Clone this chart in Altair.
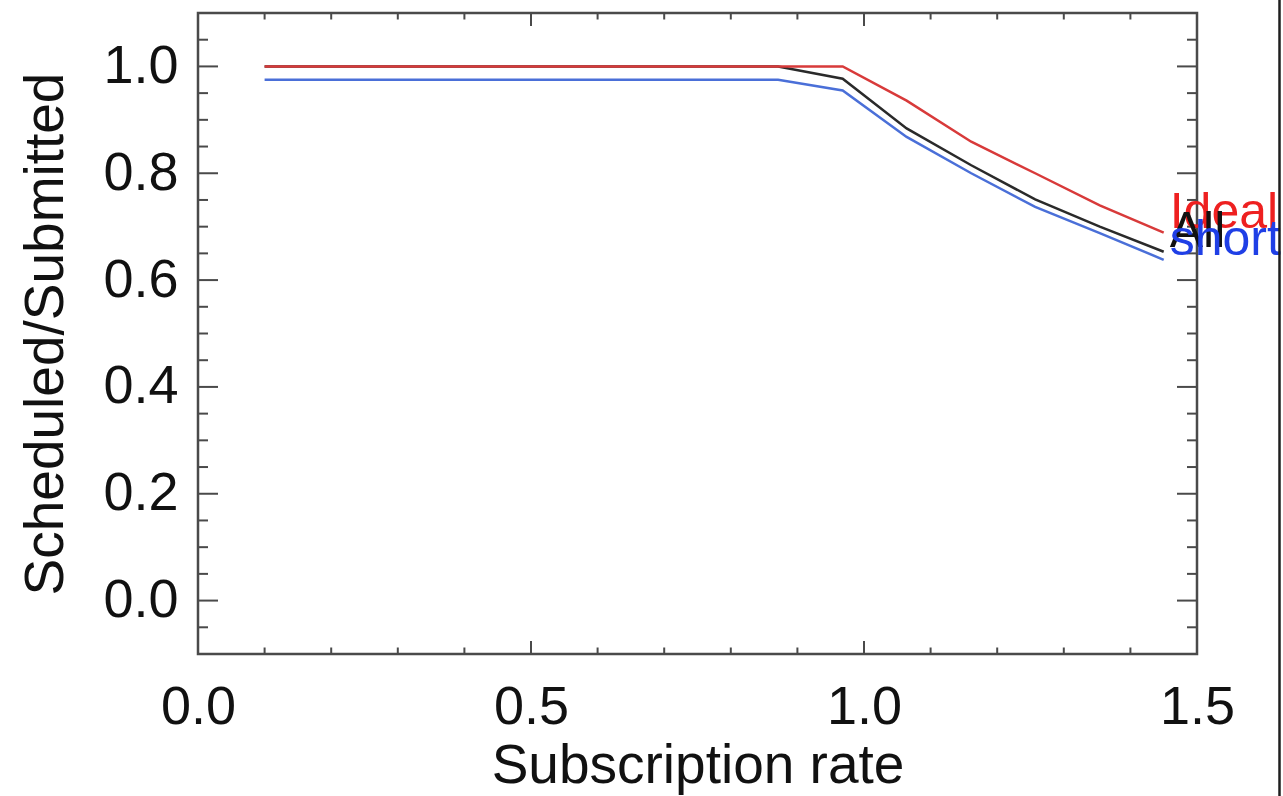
import altair as alt
import pandas as pd

# Subscription rate sample points
rate = [0.100, 0.196, 0.293, 0.389, 0.486, 0.582, 0.679, 0.775,
        0.871, 0.968, 1.064, 1.161, 1.257, 1.354, 1.450]

# Scheduled / Submitted fraction for each case
ideal = [1.000, 1.000, 1.000, 1.000, 1.000, 1.000, 1.000, 1.000,
         1.000, 1.000, 0.936, 0.859, 0.800, 0.740, 0.689]
all_jobs = [1.000, 1.000, 1.000, 1.000, 1.000, 1.000, 1.000, 1.000,
            1.000, 0.977, 0.884, 0.815, 0.751, 0.700, 0.653]
short = [0.975, 0.975, 0.975, 0.975, 0.975, 0.975, 0.975, 0.975,
         0.975, 0.955, 0.868, 0.800, 0.737, 0.688, 0.638]

series_names = ["Ideal", "All", "short"]
series_values = [ideal, all_jobs, short]
line_colors = ["#d83a3a", "#2a2a2a", "#4a6fd8"]
text_colors = ["#ee2020", "#111111", "#1f3fe6"]

# Axis ticks (drawn inward on all four sides)
x_major = [0.0, 0.5, 1.0, 1.5]
x_minor = [0.1, 0.2, 0.3, 0.4, 0.6, 0.7, 0.8, 0.9, 1.1, 1.2, 1.3, 1.4]
y_major = [0.0, 0.2, 0.4, 0.6, 0.8, 1.0]
y_minor = [-0.05, 0.05, 0.10, 0.15, 0.25, 0.30, 0.35, 0.45, 0.50, 0.55,
           0.65, 0.70, 0.75, 0.85, 0.90, 0.95, 1.05]

W, H = 999, 641
FONT = "Liberation Sans"
FRAME = "#4a4a4a"

xs = alt.Scale(domain=[0.0, 1.5], nice=False, zero=False)
ys = alt.Scale(domain=[-0.1, 1.1], nice=False, zero=False)

x_axis = alt.Axis(values=x_major, format=".1f", title="Subscription rate",
                  labelFontSize=54, labelPadding=26, ticks=False, domain=False,
                  grid=False, labelFlush=False, labelOverlap=False,
                  labelFont=FONT, titleFont=FONT, titleFontSize=55,
                  titleFontWeight="normal", titleColor="#111", labelColor="#111",
                  titleX=W / 2, titleY=128, titleBaseline="alphabetic",
                  titleAlign="center")
y_axis = alt.Axis(values=y_major, format=".1f", title="Scheduled/Submitted",
                  labelFontSize=54, labelPadding=20, ticks=False, domain=False,
                  grid=False, labelFlush=False, labelOverlap=False,
                  labelFont=FONT, titleFont=FONT, titleFontSize=55,
                  titleFontWeight="normal", titleColor="#111", labelColor="#111",
                  titleX=-136, titleY=H / 2, titleBaseline="alphabetic",
                  titleAlign="center")

# One layer per case; drawn so that the Ideal curve sits on top
line_layers = []
for name, vals, col in list(zip(series_names, series_values, line_colors))[::-1]:
    d = pd.DataFrame({"rate": rate, "frac": vals})
    line_layers.append(
        alt.Chart(d).mark_line(strokeWidth=2.5, color=col).encode(
            x=alt.X("rate:Q", scale=xs, axis=x_axis),
            y=alt.Y("frac:Q", scale=ys, axis=y_axis))
    )

# End-of-line labels
end_layers = []
for name, vals, col in zip(series_names, series_values, text_colors):
    d = pd.DataFrame({"rate": [rate[-1]], "frac": [vals[-1]], "case": [name]})
    end_layers.append(
        alt.Chart(d).mark_text(align="left", baseline="alphabetic", dx=6, dy=-5,
                               fontSize=50, font=FONT, color=col).encode(
            x=alt.X("rate:Q", scale=xs), y=alt.Y("frac:Q", scale=ys),
            text="case:N")
    )

def xticks(vals, length):
    d = pd.DataFrame({"t": vals})
    bottom = alt.Chart(d).mark_rule(color=FRAME, strokeWidth=2).encode(
        x=alt.X("t:Q", scale=xs), y=alt.value(H), y2=alt.value(H - length))
    top = alt.Chart(d).mark_rule(color=FRAME, strokeWidth=2).encode(
        x=alt.X("t:Q", scale=xs), y=alt.value(0), y2=alt.value(length))
    return [bottom, top]

def yticks(vals, length):
    d = pd.DataFrame({"t": vals})
    left = alt.Chart(d).mark_rule(color=FRAME, strokeWidth=2).encode(
        y=alt.Y("t:Q", scale=ys), x=alt.value(0), x2=alt.value(length))
    right = alt.Chart(d).mark_rule(color=FRAME, strokeWidth=2).encode(
        y=alt.Y("t:Q", scale=ys), x=alt.value(W), x2=alt.value(W - length))
    return [left, right]

tick_layers = (xticks(x_major, 13) + xticks(x_minor, 6.5)
               + yticks(y_major, 20) + yticks(y_minor, 10))

# Dark edge strip at the right border of the frame image
edge_src = pd.DataFrame({"k": [0]})
edge_white = alt.Chart(edge_src).mark_rect(color="white").encode(
    x=alt.value(1083), x2=alt.value(1095), y=alt.value(-13), y2=alt.value(783))
edge_bar = alt.Chart(edge_src).mark_rule(color="#1e1e1e", strokeWidth=2.5).encode(
    x=alt.value(1081.5), y=alt.value(-13), y2=alt.value(783))

chart = alt.layer(*line_layers, *tick_layers, *end_layers, edge_white, edge_bar).properties(
    width=W, height=H,
    autosize=alt.AutoSizeParams(type="none"),
    padding={"left": 198, "top": 13, "right": 86, "bottom": 142},
    background="white",
).configure_view(stroke=FRAME, strokeWidth=2.5)

chart.save("out.html", embed_options={"renderer": "svg", "actions": False})
